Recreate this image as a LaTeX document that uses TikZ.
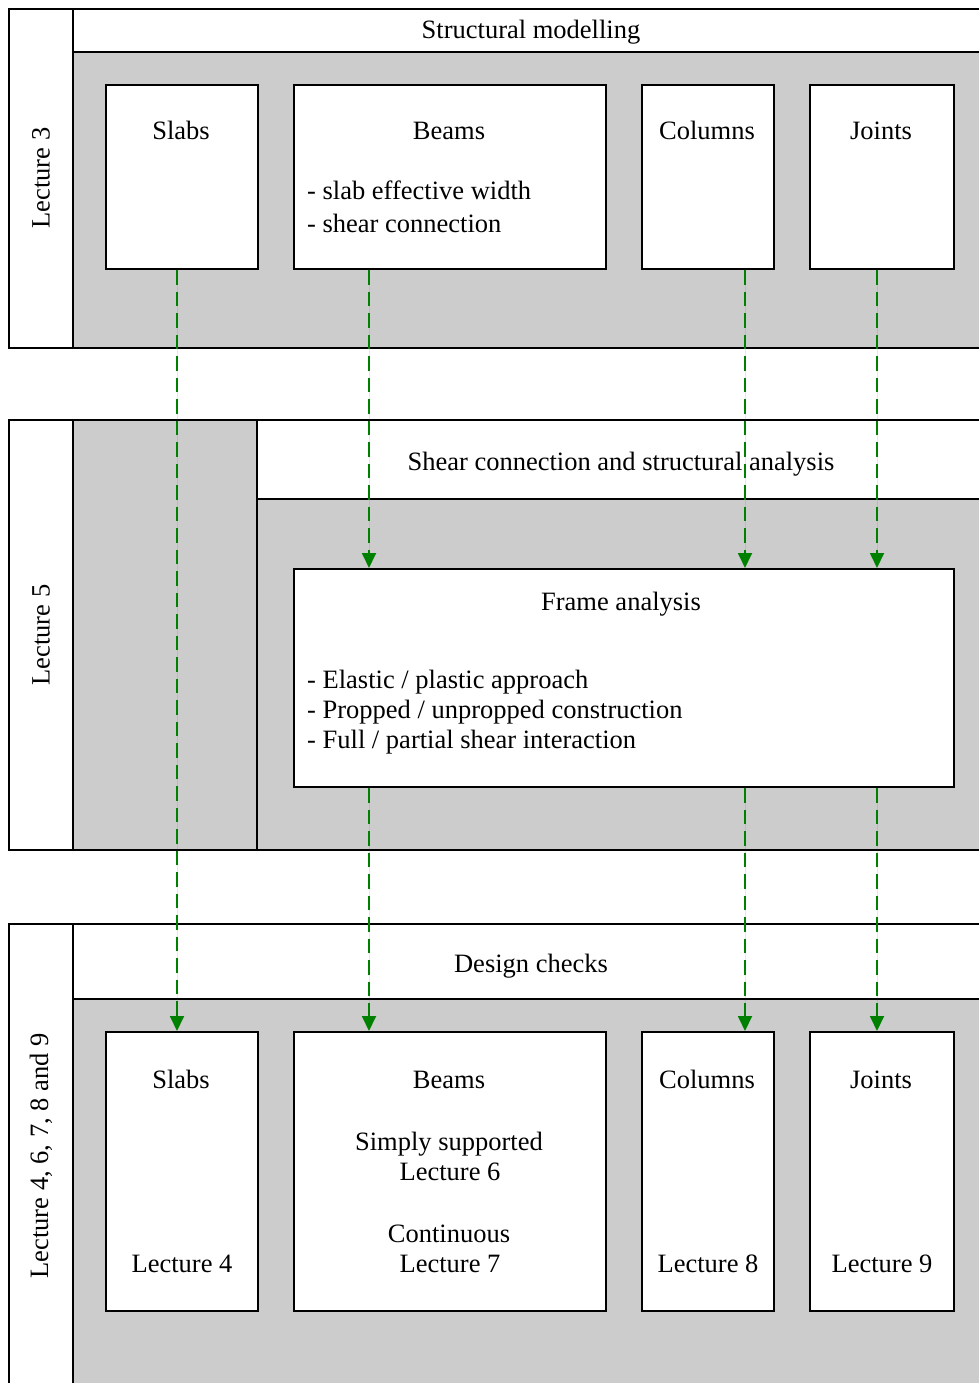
\documentclass[tikz,border=0pt]{standalone}
\usepackage{fontspec}
\setmainfont{Liberation Serif}
\usetikzlibrary{positioning, arrows.meta}
\definecolor{panelgray}{RGB}{204,204,204}
\definecolor{linkgreen}{RGB}{0,128,0}

\begin{document}
\begin{tikzpicture}[
      x=1pt, y=-1pt,
      font=\fontsize{26.5}{30}\selectfont,
      rule/.style={draw=black, line width=2pt},
      band/.style={rule, fill=panelgray},
      strip/.style={rule, fill=white},
      card/.style={draw=black, line width=2pt, fill=white, anchor=north west, inner sep=0pt},
      title/.style={anchor=base, inner sep=0pt},
      bullet/.style={anchor=base west, inner sep=0pt},
      sidelabel/.style={rotate=90, inner sep=0pt},
      link/.style={-{Triangle[width=14pt,length=15pt]}, draw=linkgreen, fill=linkgreen,
                   line width=1.8pt, dash pattern=on 14.5pt off 7pt}
    ]
      \clip (0,0) rectangle (979,1383);

      % Panels
      \draw[band] (73,52) rectangle (989,348);
      \draw[strip] (73,9) rectangle (989,52);
      \draw[strip] (9,9) rectangle (73,348);

      \draw[band] (73,420) rectangle (989,850);
      \draw[strip] (257,420) rectangle (989,499);
      \draw[rule] (257,499) -- (257,850);
      \draw[strip] (9,420) rectangle (73,850);

      \draw[band] (73,999) rectangle (989,1400);
      \draw[strip] (73,924) rectangle (989,999);
      \draw[strip] (9,924) rectangle (73,1400);

      % Panel labels
      \node[sidelabel] (lecA) at (41,178) {Lecture 3};
      \node[sidelabel] (lecB) at (41,635) {Lecture 5};
      \node[sidelabel] (lecC) at (41,1156) {Lecture 4, 6, 7, 8 and 9};
      \node[title] (headA) at (531,39) {Structural modelling};
      \node[title] (headB) at (621,470) {Shear connection and structural analysis};
      \node[title] (headC) at (531,972) {Design checks};

      % Modelling boxes
      \node[card, minimum width=152pt, minimum height=184pt] (slabsA) at (105,84) {};
      \node[card, minimum width=312pt, minimum height=184pt] (beamsA) at (293,84) {};
      \node[card, minimum width=132pt, minimum height=184pt] (colsA) at (641,84) {};
      \node[card, minimum width=144pt, minimum height=184pt] (jointsA) at (809,84) {};
      \node[title] (slabsAt) at (181,140) {Slabs};
      \node[title] (beamsAt) at (449,140) {Beams};
      \node[bullet] (beamsAb1) at (307,200) {- slab effective width};
      \node[bullet] (beamsAb2) at (307,232) {- shear connection};
      \node[title] (colsAt) at (707,140) {Columns};
      \node[title] (jointsAt) at (881,140) {Joints};

      % Analysis box
      \node[card, minimum width=660pt, minimum height=218pt] (analysis) at (293,568) {};
      \node[title] (analysist) at (621,610) {Frame analysis};
      \node[bullet] (analysisb1) at (307,688) {- Elastic / plastic approach};
      \node[bullet] (analysisb2) at (307,718) {- Propped / unpropped construction};
      \node[bullet] (analysisb3) at (307,748) {- Full / partial shear interaction};

      % Check boxes
      \node[card, minimum width=152pt, minimum height=279pt] (slabsC) at (105,1031) {};
      \node[card, minimum width=312pt, minimum height=279pt] (beamsC) at (293,1031) {};
      \node[card, minimum width=132pt, minimum height=279pt] (colsC) at (641,1031) {};
      \node[card, minimum width=144pt, minimum height=279pt] (jointsC) at (809,1031) {};
      \node[title] (slabsCt) at (181,1088) {Slabs};
      \node[title] (slabsCl) at (182,1272) {Lecture 4};
      \node[title] (beamsCt) at (449,1088) {Beams};
      \node[title] (beamsCs1) at (449,1150) {Simply supported};
      \node[title] (beamsCl1) at (450,1180) {Lecture 6};
      \node[title] (beamsCs2) at (449,1242) {Continuous};
      \node[title] (beamsCl2) at (450,1272) {Lecture 7};
      \node[title] (colsCt) at (707,1088) {Columns};
      \node[title] (colsCl) at (708,1272) {Lecture 8};
      \node[title] (jointsCt) at (881,1088) {Joints};
      \node[title] (jointsCl) at (882,1272) {Lecture 9};

      % Links
      \coordinate (xS) at (177,0);
      \coordinate (xB) at (369,0);
      \coordinate (xC) at (745,0);
      \coordinate (xJ) at (877,0);
      \draw[link] (slabsA.south -| xS) -- (slabsC.north -| xS);
      \draw[link] (beamsA.south -| xB) -- (analysis.north -| xB);
      \draw[link] (colsA.south -| xC) -- (analysis.north -| xC);
      \draw[link] (jointsA.south -| xJ) -- (analysis.north -| xJ);
      \draw[link] (analysis.south -| xB) -- (beamsC.north -| xB);
      \draw[link] (analysis.south -| xC) -- (colsC.north -| xC);
      \draw[link] (analysis.south -| xJ) -- (jointsC.north -| xJ);
    \end{tikzpicture}
\end{document}
